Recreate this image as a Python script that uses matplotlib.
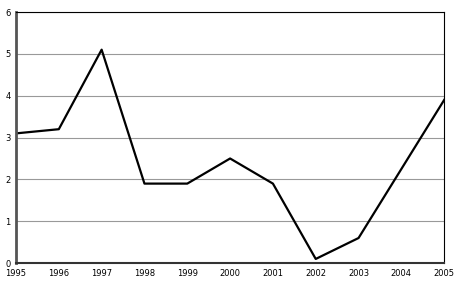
import matplotlib.pyplot as plt

years = [1995, 1996, 1997, 1998, 1999, 2000, 2001, 2002, 2003, 2004, 2005]
values = [3.1, 3.2, 5.1, 1.9, 1.9, 2.5, 1.9, 0.1, 0.6, 2.25, 3.9]
y_ticks = [0, 1, 2, 3, 4, 5, 6]

fig = plt.figure(figsize=(4.57, 2.86), dpi=100)
ax = fig.add_axes([0.035, 0.080, 0.937, 0.878])

ax.plot(years, values, color='black', linewidth=1.6)

ax.set_xlim(1995, 2005)
ax.set_ylim(0, 6)
ax.set_xticks(years)
ax.set_xticklabels([str(y) for y in years])
ax.set_yticks(y_ticks)
ax.grid(axis='y', color='#999999', linewidth=0.8)
ax.set_axisbelow(True)
ax.tick_params(length=0, labelsize=6)
ax.tick_params(axis='x', pad=4)
ax.tick_params(axis='y', pad=4)
for lbl in ax.get_yticklabels():
    lbl.set_verticalalignment('center_baseline')

ax.spines['left'].set_color('#555555')
ax.spines['left'].set_linewidth(2)
ax.spines['bottom'].set_color('#333333')
ax.spines['bottom'].set_linewidth(1.5)
ax.spines['top'].set_linewidth(0.8)
ax.spines['right'].set_linewidth(0.8)

fig.savefig('out.png', dpi=100)
